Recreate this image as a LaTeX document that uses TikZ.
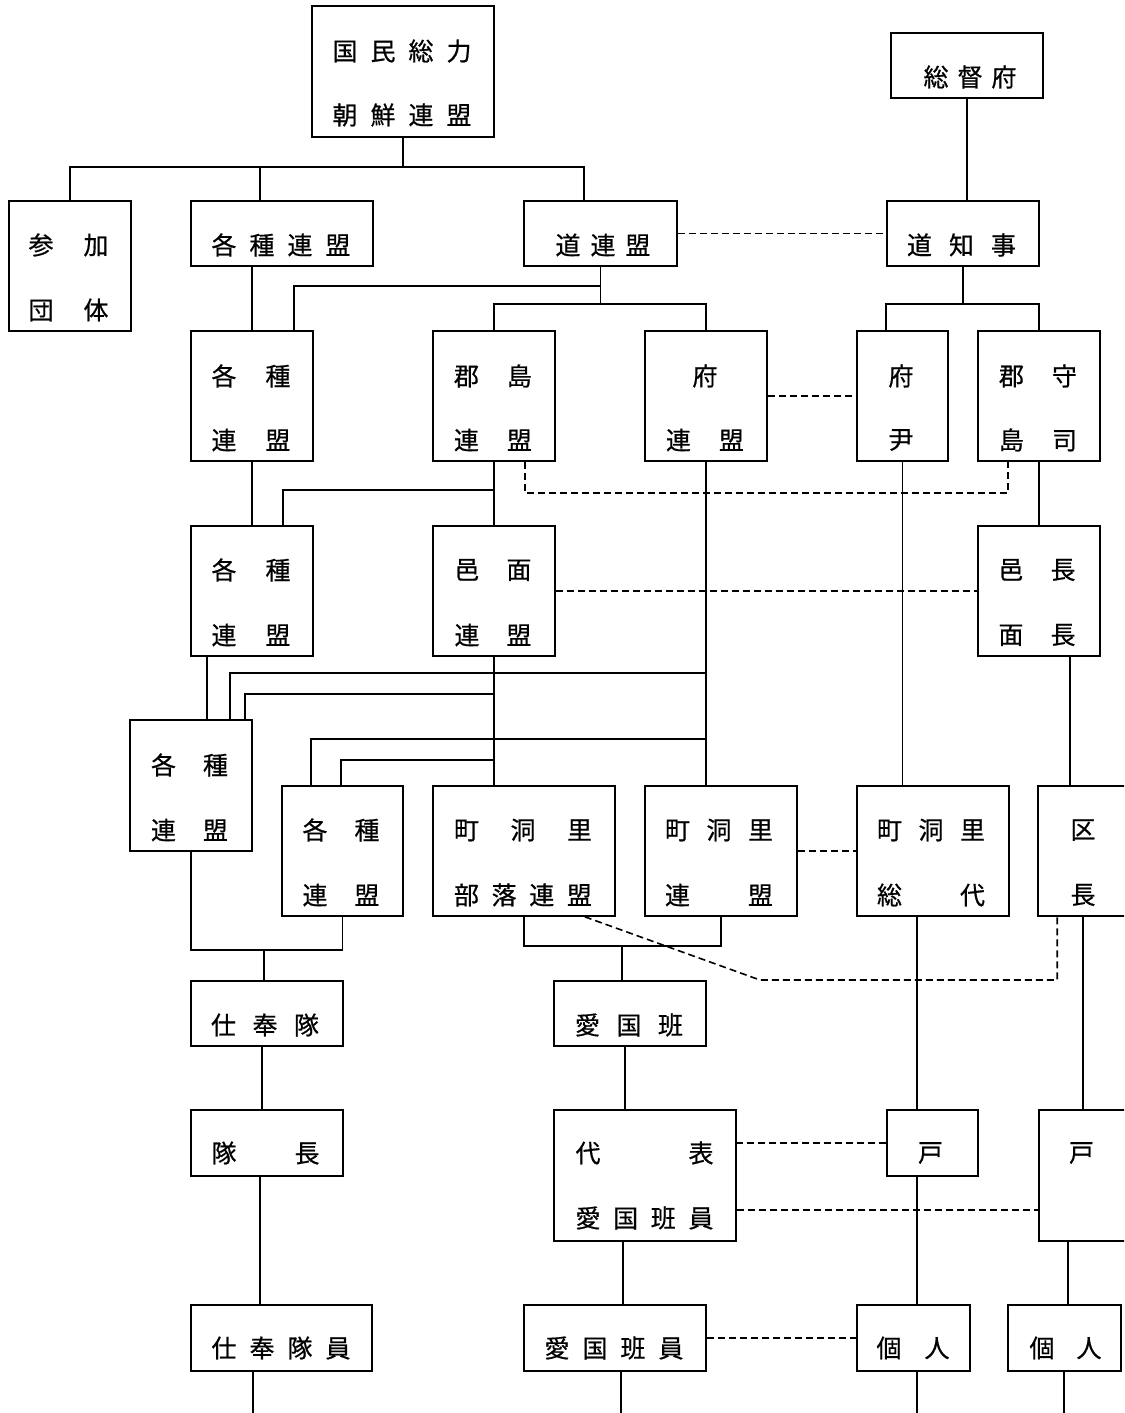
\documentclass[tikz,border=0pt]{standalone}
\usepackage{fontspec}
\newfontfamily\jp[FakeBold=0.6]{Noto Sans CJK JP}
\usetikzlibrary{positioning, calc}
\newcommand\spread[2]{\makebox[#1pt][s]{#2}}

\begin{document}
\begin{tikzpicture}[
    x=1pt, y=-1pt,
    box/.style={rectangle, draw, line width=1.6pt, inner sep=0pt},
    txt/.style={font=\jp\fontsize{25}{25}\selectfont, inner sep=0pt},
    conn/.style={line width=1.6pt},
    dconn/.style={line width=1.6pt, dash pattern=on 7pt off 4pt}
]
\useasboundingbox (0,0) rectangle (1124,1413);
\clip (0,0) rectangle (1124,1413);
\coordinate (bottom) at (0,1425);

% ========== Cajas ==========
\node[box, minimum width=182pt, minimum height=131pt] (zenso) at (403,71.5) {};
\node[box, minimum width=152pt, minimum height=65pt] (sotoku) at (967,65.5) {};

\node[box, minimum width=122pt, minimum height=130pt] (sanka) at (70,266) {};
\node[box, minimum width=182pt, minimum height=65pt] (kakushuA) at (282,233.5) {};
\node[box, minimum width=153pt, minimum height=65pt] (doRen) at (600.5,233.5) {};
\node[box, minimum width=152pt, minimum height=65pt] (doChiji) at (963,233.5) {};

\node[box, minimum width=122pt, minimum height=130pt] (kakushuB) at (252,396) {};
\node[box, minimum width=122pt, minimum height=130pt] (guntoRen) at (494,396) {};
\node[box, minimum width=122pt, minimum height=130pt] (fuRen) at (706,396) {};
\node[box, minimum width=91pt, minimum height=130pt] (fuIn) at (902.5,396) {};
\node[box, minimum width=122pt, minimum height=130pt] (gunShu) at (1039,396) {};

\node[box, minimum width=122pt, minimum height=130pt] (kakushuC) at (252,591) {};
\node[box, minimum width=122pt, minimum height=130pt] (yumenRen) at (494,591) {};
\node[box, minimum width=122pt, minimum height=130pt] (yuCho) at (1039,591) {};

\node[box, minimum width=122pt, minimum height=131pt] (kakushuD) at (191,785.5) {};
\node[box, minimum width=121pt, minimum height=130pt] (kakushuE) at (342.5,851) {};
\node[box, minimum width=182pt, minimum height=130pt] (burakuRen) at (524,851) {};
\node[box, minimum width=152pt, minimum height=130pt] (choRen) at (721,851) {};
\node[box, minimum width=152pt, minimum height=130pt] (choSo) at (933,851) {};
\node[box, minimum width=102pt, minimum height=130pt] (kuCho) at (1089,851) {};

\node[box, minimum width=152pt, minimum height=65pt] (hoshiTai) at (267,1013.5) {};
\node[box, minimum width=152pt, minimum height=65pt] (aikokuHan) at (630,1013.5) {};

\node[box, minimum width=152pt, minimum height=66pt] (taiCho) at (267,1143) {};
\node[box, minimum width=182pt, minimum height=131pt] (daiHyo) at (645,1175.5) {};
\node[box, minimum width=91pt, minimum height=66pt] (koA) at (932.5,1143) {};
\node[box, minimum width=101pt, minimum height=131pt] (koB) at (1089.5,1175.5) {};

\node[box, minimum width=181pt, minimum height=66pt] (hoshiIn) at (281.5,1338) {};
\node[box, minimum width=182pt, minimum height=66pt] (hanIn) at (615,1338) {};
\node[box, minimum width=113pt, minimum height=66pt] (kojinA) at (913.5,1338) {};
\node[box, minimum width=113pt, minimum height=66pt] (kojinB) at (1064.5,1338) {};

% ========== Textos ==========
\node[txt] (zensoT1) at (402,51) {\spread{139}{国\hfill 民\hfill 総\hfill 力}};
\node[txt] (zensoT2) at (402,115) {\spread{139}{朝\hfill 鮮\hfill 連\hfill 盟}};
\node[txt] (sotokuT) at (970,77) {\spread{93}{総\hfill 督\hfill 府}};

\node[txt] (sankaT1) at (68.5,245) {\spread{80}{参\hfill 加}};
\node[txt] (sankaT2) at (68.5,310) {\spread{80}{団\hfill 体}};
\node[txt] (kakushuAT) at (281,245) {\spread{139}{各\hfill 種\hfill 連\hfill 盟}};
\node[txt] (doRenT) at (603,245) {\spread{95}{道\hfill 連\hfill 盟}};
\node[txt] (doChijiT) at (961.5,245) {\spread{109}{道\hfill 知\hfill 事}};

\node[txt] (kakushuBT1) at (251,376) {\spread{79}{各\hfill 種}};
\node[txt] (kakushuBT2) at (251,440) {\spread{79}{連\hfill 盟}};
\node[txt] (guntoRenT1) at (493,376) {\spread{78}{郡\hfill 島}};
\node[txt] (guntoRenT2) at (493,440) {\spread{78}{連\hfill 盟}};
\node[txt] (fuRenT1) at (705,376) {府};
\node[txt] (fuRenT2) at (705,440) {\spread{78}{連\hfill 盟}};
\node[txt] (fuInT1) at (901,376) {府};
\node[txt] (fuInT2) at (901,440) {尹};
\node[txt] (gunShuT1) at (1038,376) {\spread{78}{郡\hfill 守}};
\node[txt] (gunShuT2) at (1038,440) {\spread{78}{島\hfill 司}};

\node[txt] (kakushuCT1) at (251,570) {\spread{79}{各\hfill 種}};
\node[txt] (kakushuCT2) at (251,635) {\spread{79}{連\hfill 盟}};
\node[txt] (yumenRenT1) at (493,570) {\spread{77}{邑\hfill 面}};
\node[txt] (yumenRenT2) at (493,635) {\spread{77}{連\hfill 盟}};
\node[txt] (yuChoT1) at (1037,570) {\spread{77}{邑\hfill 長}};
\node[txt] (yuChoT2) at (1037,635) {\spread{77}{面\hfill 長}};

\node[txt] (kakushuDT1) at (189.5,765) {\spread{77}{各\hfill 種}};
\node[txt] (kakushuDT2) at (189.5,830) {\spread{77}{連\hfill 盟}};
\node[txt] (kakushuET1) at (341,830) {\spread{77}{各\hfill 種}};
\node[txt] (kakushuET2) at (341,895) {\spread{77}{連\hfill 盟}};
\node[txt] (burakuRenT1) at (523,830) {\spread{138}{町\hfill 洞\hfill 里}};
\node[txt] (burakuRenT2) at (523,895) {\spread{138}{部\hfill 落\hfill 連\hfill 盟}};
\node[txt] (choRenT1) at (719,830) {\spread{108}{町\hfill 洞\hfill 里}};
\node[txt] (choRenT2) at (719,895) {\spread{108}{連\hfill 盟}};
\node[txt] (choSoT1) at (931,830) {\spread{108}{町\hfill 洞\hfill 里}};
\node[txt] (choSoT2) at (931,895) {\spread{108}{総\hfill 代}};
\node[txt] (kuChoT1) at (1083,830) {区};
\node[txt] (kuChoT2) at (1083,895) {長};

\node[txt] (hoshiTaiT) at (265,1025) {\spread{108}{仕\hfill 奉\hfill 隊}};
\node[txt] (aikokuHanT) at (629,1025) {\spread{108}{愛\hfill 国\hfill 班}};

\node[txt] (taiChoT) at (265.5,1153) {\spread{108}{隊\hfill 長}};
\node[txt] (daiHyoT1) at (644.5,1153) {\spread{138}{代\hfill 表}};
\node[txt] (daiHyoT2) at (644.5,1218) {\spread{138}{愛\hfill 国\hfill 班\hfill 員}};
\node[txt] (koAT) at (930.5,1153) {戸};
\node[txt] (koBT) at (1081.5,1153) {戸};

\node[txt] (hoshiInT) at (281,1348) {\spread{139}{仕\hfill 奉\hfill 隊\hfill 員}};
\node[txt] (hanInT) at (614,1348) {\spread{139}{愛\hfill 国\hfill 班\hfill 員}};
\node[txt] (kojinAT) at (913,1348) {\spread{73}{個\hfill 人}};
\node[txt] (kojinBT) at (1065.5,1348) {\spread{72}{個\hfill 人}};

% ========== Lineas superiores ==========
\coordinate (busTop) at ($(zenso.south)+(0,29)$);
\coordinate (doDrop) at ($(doRen.north west)+(61,0)$);
\coordinate (kakDrop) at ($(kakushuA.north west)+(70,0)$);
\draw[conn] (zenso.south) -- (busTop);
\draw[conn] (sanka.north) |- (busTop) -| (doDrop);
\draw[conn] (busTop) -| (kakDrop);
\draw[conn] (sotoku.south) -- (sotoku.south |- doChiji.north);

% Ramas del doRen
\coordinate (doJ1) at ($(doRen.south)+(0,19)$);
\coordinate (doJ2) at ($(doRen.south)+(0,37)$);
\coordinate (kakBdrop) at ($(kakushuB.north east)+(-20,0)$);
\draw[conn] (doRen.south) -- (doJ2);
\draw[conn] (doJ1) -| (kakBdrop);
\draw[conn] (guntoRen.north) |- (doJ2) -| (fuRen.north);

% Ramas del doChiji
\coordinate (chiJ) at ($(doChiji.south)+(0,37)$);
\coordinate (fuInDrop) at ($(fuIn.north west)+(30,0)$);
\draw[conn] (doChiji.south) -- (chiJ);
\draw[conn] (fuInDrop) |- (chiJ) -| (gunShu.north);

% ========== Nivel medio ==========
\draw[conn] (kakushuB.north) -- (kakushuB.north |- kakushuA.south);
\draw[conn] (kakushuB) -- (kakushuC);
\draw[conn] (guntoRen) -- (yumenRen);
\coordinate (gunJ) at ($(guntoRen.south)+(0,28)$);
\coordinate (kakCdrop) at ($(kakushuC.north east)+(-31,0)$);
\draw[conn] (gunJ) -| (kakCdrop);

\coordinate (fuLow) at (fuRen.south |- choRen.north);
\draw[conn] (fuRen.south) -- (fuLow);
\draw[conn] (fuIn.south) -- (fuIn.south |- choSo.north);
\draw[conn] (gunShu) -- (yuCho);
\coordinate (yuChoB) at ($(yuCho.south east)+(-31,0)$);
\draw[conn] (yuChoB) -- (yuChoB |- kuCho.north);

\coordinate (kakCB) at ($(kakushuC.south west)+(17,0)$);
\draw[conn] (kakCB) -- (kakCB |- kakushuD.north);

% Tronco del yumenRen
\draw[conn] (yumenRen.south) -- (yumenRen.south |- burakuRen.north);
\coordinate (kakDa) at ($(kakushuD.north east)+(-23,0)$);
\coordinate (kakDb) at ($(kakushuD.north east)+(-8,0)$);
\coordinate (kakEa) at ($(kakushuE.north west)+(30,0)$);
\coordinate (kakEb) at ($(kakushuE.north west)+(60,0)$);
\coordinate (hA) at ($(yumenRen.south)+(0,16)$);
\coordinate (hB) at ($(yumenRen.south)+(0,37)$);
\coordinate (hC) at ($(yumenRen.south)+(0,82)$);
\coordinate (hD) at ($(yumenRen.south)+(0,103)$);
\draw[conn] (kakDa) |- (hA -| fuLow);
\draw[conn] (kakDb) |- (hB);
\draw[conn] (kakEa) |- (hC -| fuLow);
\draw[conn] (kakEb) |- (hD);

% ========== Nivel inferior ==========
\coordinate (hoJ) at ($(hoshiTai.north west)+(74,-30)$);
\draw[conn] (kakushuD.south) |- (hoJ) -| (kakushuE.south);
\draw[conn] (hoJ) -- (hoJ |- hoshiTai.north);

\coordinate (aiJ) at ($(aikokuHan.north west)+(69,-34)$);
\draw[conn] (burakuRen.south) |- (aiJ) -| (choRen.south);
\draw[conn] (aiJ) -- (aiJ |- aikokuHan.north);

\coordinate (hoTB) at ($(hoshiTai.south west)+(72,0)$);
\draw[conn] (hoTB) -- (hoTB |- taiCho.north);
\coordinate (taiB) at ($(taiCho.south west)+(70,0)$);
\draw[conn] (taiB) -- (taiB |- hoshiIn.north);
\coordinate (hoIB) at ($(hoshiIn.south west)+(63,0)$);
\draw[conn] (hoIB) -- (hoIB |- bottom);

\coordinate (aiB) at ($(aikokuHan.south west)+(72,0)$);
\draw[conn] (aiB) -- (aiB |- daiHyo.north);
\coordinate (daiB) at ($(daiHyo.south west)+(70,0)$);
\draw[conn] (daiB) -- (daiB |- hanIn.north);
\coordinate (hanB) at ($(hanIn.south west)+(98,0)$);
\draw[conn] (hanB) -- (hanB |- bottom);

\coordinate (soB) at ($(choSo.south west)+(61,0)$);
\draw[conn] (soB) -- (soB |- koA.north);
\draw[conn] (koA.south -| soB) -- (soB |- kojinA.north);
\draw[conn] (soB |- kojinA.south) -- (soB |- bottom);

\coordinate (kuB) at ($(kuCho.south west)+(46,0)$);
\draw[conn] (kuB) -- (kuB |- koB.north);
\coordinate (koBB) at ($(koB.south west)+(30,0)$);
\draw[conn] (koBB) -- (koBB |- kojinB.north);
\coordinate (kojBB) at ($(kojinB.south west)+(57,0)$);
\draw[conn] (kojBB) -- (kojBB |- bottom);

% ========== Lineas discontinuas ==========
\draw[dconn] (doRen) -- (doChiji);
\draw[dconn] (fuRen) -- (fuIn);
\coordinate (gunD) at ($(guntoRen.south east)+(-31,0)$);
\coordinate (shuD) at ($(gunShu.south west)+(31,0)$);
\draw[dconn] (gunD) -- ++(0,31) -| (shuD);
\draw[dconn] (yumenRen) -- (yuCho);
\draw[dconn] (choRen) -- (choSo);
\coordinate (bukD) at ($(burakuRen.south east)+(-31,0)$);
\coordinate (kink) at (760,980);
\coordinate (kuD) at ($(kuCho.south west)+(20,0)$);
\draw[dconn] (bukD) -- (kink) -| (kuD);
\draw[dconn] (koA.west) -- (koA.west -| daiHyo.east);
\coordinate (daiD) at ($(daiHyo.south east)+(0,-32)$);
\draw[dconn] (daiD) -- (daiD -| koB.west);
\draw[dconn] (hanIn) -- (kojinA);

\end{tikzpicture}
\end{document}
